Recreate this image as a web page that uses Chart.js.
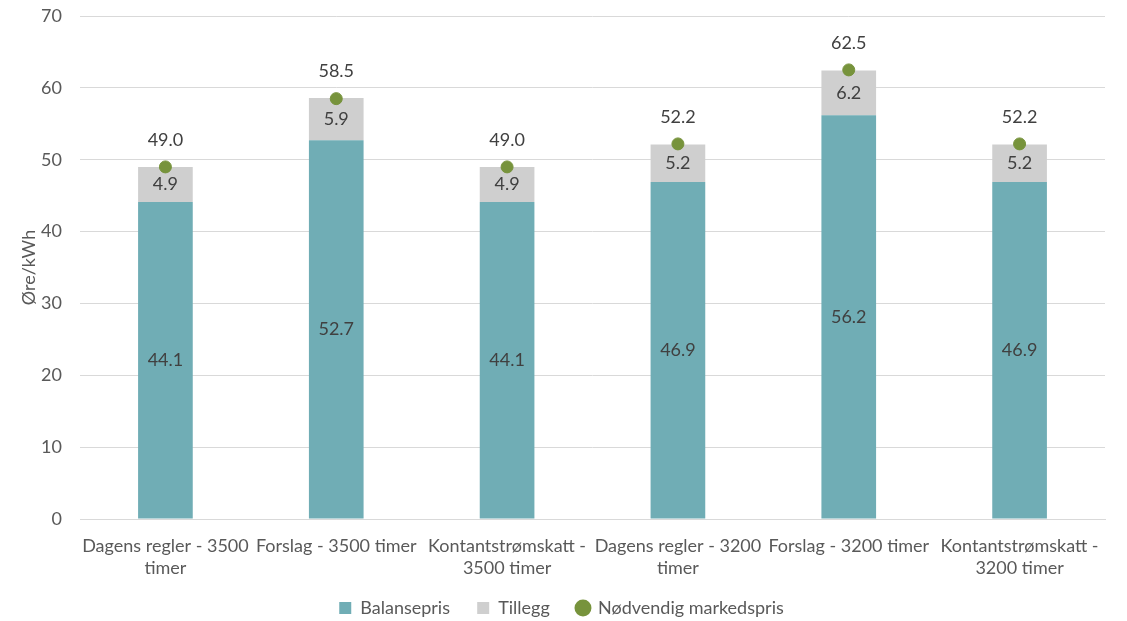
<!DOCTYPE html>
<html>
<head>
<meta charset="utf-8">
<script src="https://cdn.jsdelivr.net/npm/chart.js@4/dist/chart.umd.min.js"></script>
<style>
  html, body { margin: 0; padding: 0; background: #fff; }
  #wrap { width: 1127px; height: 621px; }
</style>
</head>
<body>
<div id="wrap"><canvas id="chart"></canvas></div>
<script>
const categories = [
    ['Dagens regler - 3500', 'timer'],
    ['Forslag - 3500 timer'],
    ['Kontantstrømskatt -', '3500 timer'],
    ['Dagens regler - 3200', 'timer'],
    ['Forslag - 3200 timer'],
    ['Kontantstrømskatt -', '3200 timer']
];
const balansepris = [44.1, 52.7, 44.1, 46.9, 56.2, 46.9];
const tillegg = [4.9, 5.9, 4.9, 5.2, 6.2, 5.2];
const markedspris = [49.0, 58.5, 49.0, 52.2, 62.5, 52.2];

const fontFamily = 'Lato, "Open Sans", sans-serif';
const textColor = '#595959';

// draws the value labels (no datalabels plugin offline)
const valueLabels = {
    id: 'valueLabels',
    afterDatasetsDraw(chart) {
        const ctx = chart.ctx;
        ctx.save();
        ctx.font = '18px ' + fontFamily;
        ctx.fillStyle = '#404040';
        ctx.textAlign = 'center';
        ctx.textBaseline = 'middle';
        chart.data.datasets.forEach((ds, i) => {
            const meta = chart.getDatasetMeta(i);
            meta.data.forEach((el, j) => {
                const txt = ds.data[j].toFixed(1);
                if (ds.type === 'line') {
                    ctx.fillText(txt, el.x, el.y - 27);
                } else {
                    ctx.fillText(txt, el.x, (el.y + el.base) / 2);
                }
            });
        });
        ctx.restore();
    }
};

new Chart(document.getElementById('chart').getContext('2d'), {
    type: 'bar',
    data: {
        labels: categories,
        datasets: [
            {
                label: 'Balansepris',
                data: balansepris,
                backgroundColor: '#70ADB5',
                stack: 's',
                categoryPercentage: 1,
                barPercentage: 0.32,
                order: 2
            },
            {
                label: 'Tillegg',
                data: tillegg,
                backgroundColor: '#CFCFCF',
                stack: 's',
                categoryPercentage: 1,
                barPercentage: 0.32,
                order: 2
            },
            {
                type: 'line',
                label: 'Nødvendig markedspris',
                data: markedspris,
                showLine: false,
                pointRadius: 6,
                pointHoverRadius: 6,
                pointBackgroundColor: '#77933C',
                pointBorderColor: '#77933C',
                backgroundColor: '#77933C',
                borderColor: '#77933C',
                order: 1
            }
        ]
    },
    options: {
        responsive: true,
        maintainAspectRatio: false,
        animation: false,
        layout: { padding: { left: 18, right: 22, top: 16, bottom: -6 } },
        plugins: {
            tooltip: { enabled: false },
            legend: {
                position: 'bottom',
                labels: {
                    usePointStyle: true,
                    boxWidth: 12,
                    boxHeight: 12,
                    padding: 18,
                    color: textColor,
                    font: { family: fontFamily, size: 18 },
                    generateLabels(chart) {
                        const n = chart.data.datasets.length;
                        return chart.data.datasets.map((ds, i) => ({
                            // a little extra room between legend items
                            text: i < n - 1 ? ds.label + '  ' : ds.label,
                            fillStyle: ds.type === 'line' ? '#77933C' : ds.backgroundColor,
                            strokeStyle: ds.type === 'line' ? '#77933C' : ds.backgroundColor,
                            lineWidth: 0,
                            pointStyle: ds.type === 'line' ? 'circle' : 'rect',
                            fontColor: textColor,
                            datasetIndex: i
                        }));
                    }
                }
            }
        },
        scales: {
            x: {
                stacked: true,
                grid: { display: false },
                border: { color: '#D9D9D9', width: 1 },
                ticks: {
                    color: textColor,
                    padding: 8,
                    font: { family: fontFamily, size: 18, lineHeight: 1.22 },
                    maxRotation: 0,
                    autoSkip: false
                },
                afterFit(scale) {
                    scale.height = 62;
                    scale.paddingLeft = 0;
                    scale.paddingRight = 0;
                }
            },
            y: {
                stacked: true,
                min: 0,
                max: 70,
                ticks: {
                    stepSize: 10,
                    color: textColor,
                    padding: 18,
                    font: { family: fontFamily, size: 18 }
                },
                grid: { color: '#D9D9D9', drawTicks: false },
                border: { display: false },
                title: {
                    display: true,
                    text: 'Øre/kWh',
                    color: textColor,
                    padding: 0,
                    font: { family: fontFamily, size: 18 }
                },
                afterFit(scale) {
                    scale.width = 62;
                    scale.paddingTop = 0;
                    scale.paddingBottom = 0;
                }
            }
        }
    },
    plugins: [valueLabels]
});
</script>
</body>
</html>
